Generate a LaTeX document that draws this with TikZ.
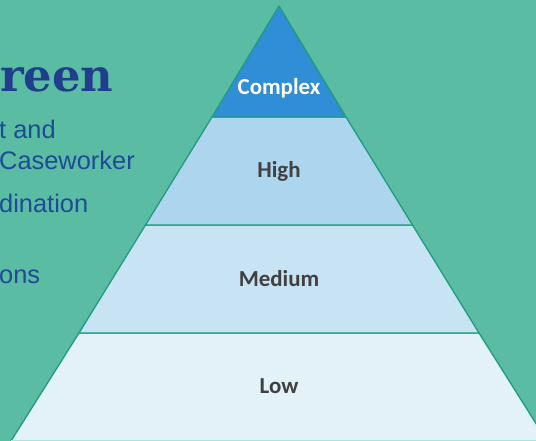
\documentclass[tikz,border=0pt]{standalone}
\usepackage{fontspec}
\setmainfont{Carlito}
\newfontfamily\leftsans{Liberation Sans}
\newfontfamily\leftserif{DejaVu Serif}
\definecolor{bgteal}{HTML}{5BBCA4}
\definecolor{edgeteal}{HTML}{1F9C80}
\definecolor{complexblue}{HTML}{2F8ED6}
\definecolor{highblue}{HTML}{AED5EE}
\definecolor{medblue}{HTML}{C8E3F3}
\definecolor{lowblue}{HTML}{E3F1F9}
\definecolor{basecyan}{HTML}{A2E9DD}
\definecolor{navytext}{HTML}{1F3F8C}
\definecolor{bodyblue}{HTML}{1F4A96}
\definecolor{labelgray}{HTML}{404040}
\tikzset{
  band/.style={draw=edgeteal, line width=1.3bp, line join=round},
  tierlabel/.style={font=\fontsize{23}{25}\selectfont\bfseries, text=labelgray, inner sep=0pt},
  leftline/.style={font=\leftsans\fontsize{25.5}{28}\selectfont, text=bodyblue, anchor=base west, inner sep=0pt},
}
\begin{document}
\begin{tikzpicture}[x=1bp,y=-1bp]
\useasboundingbox (0,0) rectangle (536,441);
\clip (0,0) rectangle (536,441);
\fill[bgteal] (-5,-5) rectangle (541,446);
% left text (cropped slide text)
\node[font=\leftserif\fontsize{45}{50}\selectfont\bfseries, text=navytext, anchor=base west, inner sep=0pt] (title) at (0,92) {reen};
\node[leftline] (l1) at (-1,139) {t and};
\node[leftline] (l2) at (-1,170) {Caseworker};
\node[leftline] (l3) at (-1,213) {dination};
\node[leftline] (l4) at (-1,283) {ons};
% pyramid geometry
\coordinate (apex) at (279,6);
\coordinate (L1) at (212,117);
\coordinate (R1) at (346,117);
\coordinate (L2) at (145.5,225);
\coordinate (R2) at (412.5,225);
\coordinate (L3) at (79,333);
\coordinate (R3) at (479,333);
\coordinate (L4) at (11,441);
\coordinate (R4) at (547,441);
\filldraw[band, fill=lowblue] (L3) -- (R3) -- (R4) -- (L4) -- cycle;
\filldraw[band, fill=medblue] (L2) -- (R2) -- (R3) -- (L3) -- cycle;
\filldraw[band, fill=highblue] (L1) -- (R1) -- (R2) -- (L2) -- cycle;
\filldraw[band, fill=complexblue] (apex) -- (R1) -- (L1) -- cycle;
\draw[basecyan, line width=1.5bp] (L4) -- (R4);
% labels
\node[tierlabel, text=white] (complex) at (279,88) {Complex};
\node[tierlabel] (high) at (279,171) {High};
\node[tierlabel] (medium) at (279,279) {Medium};
\node[tierlabel] (low) at (279,386) {Low};
\end{tikzpicture}
\end{document}
